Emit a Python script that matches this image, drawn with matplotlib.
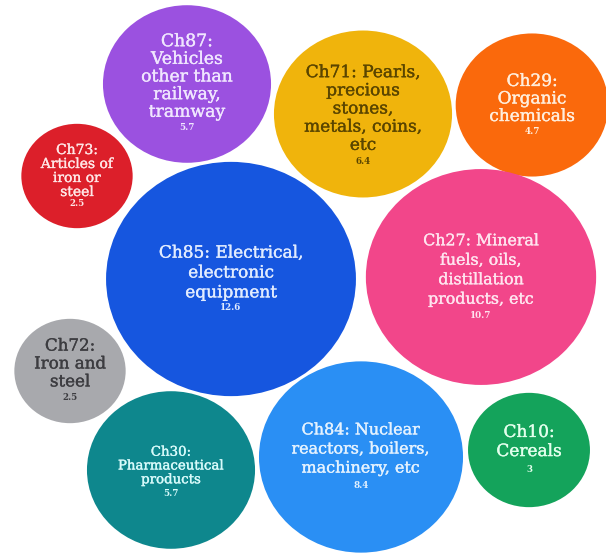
import numpy as np
import matplotlib
matplotlib.use("Agg")
import matplotlib.pyplot as plt
import matplotlib.patheffects as pe
from matplotlib.patches import Ellipse

# ---- data ----
chapters = ["Ch87", "Ch71", "Ch29", "Ch73", "Ch85", "Ch27", "Ch72", "Ch30", "Ch84", "Ch10"]
labels = [
    "Ch87:\nVehicles\nother than\nrailway,\ntramway",
    "Ch71: Pearls,\nprecious\nstones,\nmetals, coins,\netc",
    "Ch29:\nOrganic\nchemicals",
    "Ch73:\nArticles of\niron or\nsteel",
    "Ch85: Electrical,\nelectronic\nequipment",
    "Ch27: Mineral\nfuels, oils,\ndistillation\nproducts, etc",
    "Ch72:\nIron and\nsteel",
    "Ch30:\nPharmaceutical\nproducts",
    "Ch84: Nuclear\nreactors, boilers,\nmachinery, etc",
    "Ch10:\nCereals",
]
values = [5.7, 6.4, 4.7, 2.5, 12.6, 10.7, 2.5, 5.7, 8.4, 3]
value_text = ["5.7", "6.4", "4.7", "2.5", "12.6", "10.7", "2.5", "5.7", "8.4", "3"]

# ---- layout (pixel space, y down) ----
cx = [187, 363, 532, 77, 231, 481, 70, 171, 361, 529]
cy = [84, 114, 105, 176, 279, 277, 371, 470, 457, 450]
label_y = [77, 109, 99, 171, 273, 270, 364, 466, 449, 442]
val_y = [128, 162, 132, 204, 308, 315, 397, 493, 485, 469]
font_sz = [12.4, 12.2, 12.2, 10.0, 12.2, 11.4, 12.0, 9.6, 11.5, 12.2]
line_sp = [1.05, 1.09, 1.04, 1.0, 1.22, 1.19, 1.07, 1.08, 1.16, 1.16]

colors = ["#9b51e0", "#f0b40c", "#fa690c", "#dc1f2a", "#1656df",
          "#f2468a", "#a8a9ad", "#0e878d", "#2a8ff4", "#14a35b"]
text_colors = ["#f0e6ff", "#5a4500", "#ffeedd", "#ffe6e6", "#e2ecff",
               "#ffe4ef", "#3c3c40", "#d8fbfb", "#e4f2ff", "#e2ffec"]

KX, KY = 35.2, 33.0  # radius per sqrt(value), px

fig = plt.figure(figsize=(6.06, 5.53), dpi=100)
ax = fig.add_axes([0, 0, 1, 1])
ax.set_xlim(0, 606)
ax.set_ylim(553, 0)
ax.axis("off")

for i in range(len(values)):
    r = np.sqrt(values[i])
    ax.add_patch(Ellipse((cx[i], cy[i]), 2 * KX * r, 2 * KY * r,
                         facecolor=colors[i], edgecolor="none"))
    # very thin outline in the text colour for a slightly heavier serif
    thick = [pe.withStroke(linewidth=0.25, foreground=text_colors[i])]
    ax.text(cx[i], label_y[i], labels[i], ha="center", va="center",
            multialignment="center", fontsize=font_sz[i],
            family="DejaVu Serif", color=text_colors[i],
            linespacing=line_sp[i], path_effects=thick)
    ax.text(cx[i], val_y[i], value_text[i], ha="center", va="center",
            fontsize=6.3, fontweight="bold", family="DejaVu Serif",
            color=text_colors[i])

fig.savefig("out.png", dpi=100)
